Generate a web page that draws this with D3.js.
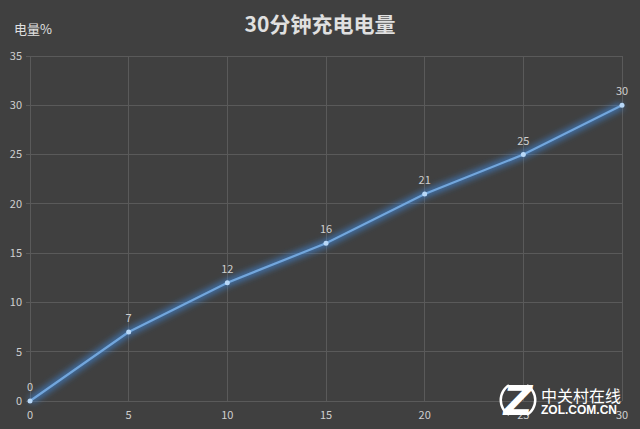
<!DOCTYPE html>
<html><head><meta charset="utf-8">
<script src="https://cdn.jsdelivr.net/npm/d3@7"></script>
<style>body{margin:0;background:#404040;}svg{display:block;}</style>
</head><body>
<script>
const xValues = [0, 5, 10, 15, 20, 25, 30];
const yValues = [0, 7, 12, 16, 21, 25, 30];
const xTicks = [0, 5, 10, 15, 20, 25, 30];
const yTicks = [0, 5, 10, 15, 20, 25, 30, 35];
const title = "30分钟充电电量";
const yTitle = "电量%";

const W = 640, H = 429;
const m = {l: 30, r: 18, t: 56, b: 28};
const svg = d3.select("body").append("svg").attr("width", W).attr("height", H);
svg.append("rect").attr("width", W).attr("height", H).attr("fill", "#404040");

const x = d3.scaleLinear().domain([0, 30]).range([m.l, W - m.r]);
const y = d3.scaleLinear().domain([0, 35]).range([H - m.b, m.t]);

const font = "'Noto Sans CJK SC', 'Microsoft YaHei', sans-serif";

const defs = svg.append("defs");
const f = defs.append("filter").attr("id", "glow").attr("x", "-10%").attr("y", "-10%").attr("width", "120%").attr("height", "120%");
f.append("feGaussianBlur").attr("stdDeviation", 3);

// grid
svg.append("g").selectAll("line").data(yTicks).join("line")
  .attr("x1", m.l).attr("x2", W - m.r)
  .attr("y1", d => y(d)).attr("y2", d => y(d))
  .attr("stroke", "#5a5a5a").attr("stroke-width", 1).attr("shape-rendering", "crispEdges");
svg.append("g").selectAll("line").data(xTicks).join("line")
  .attr("y1", y(0)).attr("y2", y(35))
  .attr("x1", d => x(d)).attr("x2", d => x(d))
  .attr("stroke", "#5a5a5a").attr("stroke-width", 1).attr("shape-rendering", "crispEdges");
svg.append("g").selectAll("line").data(yTicks).join("line")
  .attr("x1", m.l - 4).attr("x2", m.l)
  .attr("y1", d => y(d)).attr("y2", d => y(d))
  .attr("stroke", "#5a5a5a").attr("shape-rendering", "crispEdges");

svg.append("g").selectAll("text").data(yTicks).join("text")
  .attr("x", m.l - 8).attr("y", d => y(d)).attr("dy", "0.35em")
  .attr("text-anchor", "end").attr("fill", "#cfcfcf")
  .style("font", `11px ${font}`).text(d => d);
svg.append("g").selectAll("text").data(xTicks).join("text")
  .attr("x", d => x(d)).attr("y", y(0) + 18)
  .attr("text-anchor", "middle").attr("fill", "#cfcfcf")
  .style("font", `11px ${font}`).text(d => d);

const pts = xValues.map((v, i) => [v, yValues[i]]);
const line = d3.line().x(d => x(d[0])).y(d => y(d[1]));

svg.append("path").datum(pts).attr("d", line)
  .attr("fill", "none").attr("stroke", "#3f88dc").attr("stroke-width", 7)
  .attr("stroke-opacity", 0.7).attr("filter", "url(#glow)");
svg.append("path").datum(pts).attr("d", line)
  .attr("fill", "none").attr("stroke", "#72a6dc").attr("stroke-width", 2.2);
svg.append("g").selectAll("circle").data(pts).join("circle")
  .attr("cx", d => x(d[0])).attr("cy", d => y(d[1])).attr("r", 2.5)
  .attr("fill", "#b8d8f8");

svg.append("g").selectAll("text").data(pts).join("text")
  .attr("x", d => x(d[0])).attr("y", d => y(d[1]) - 10)
  .attr("text-anchor", "middle").attr("fill", "#cfcfcf")
  .style("font", `11px ${font}`).text(d => d[1]);

svg.append("text").attr("x", 320).attr("y", 32).attr("text-anchor", "middle")
  .attr("fill", "#e0e0e0").style("font", `bold 21px ${font}`).text(title);
svg.append("text").attr("x", 14).attr("y", 34)
  .attr("fill", "#e0e0e0").style("font", `13px ${font}`).text(yTitle);

// watermark
const wm = svg.append("g");
const arc = d3.arc().innerRadius(16).outerRadius(18.5);
wm.append("path").attr("transform", "translate(518,400)")
  .attr("d", arc({startAngle: -2.6, endAngle: -0.55 - Math.PI / 2 + Math.PI / 2 - 0.0}))
  .attr("fill", "#ffffff");
wm.append("path").attr("transform", "translate(518,400)")
  .attr("d", arc({startAngle: 0.55, endAngle: 2.6}))
  .attr("fill", "#ffffff");
wm.append("text").attr("x", 518).attr("y", 415).attr("text-anchor", "middle")
  .attr("fill", "#ffffff").style("font", `italic bold 40px 'DejaVu Sans', sans-serif`).text("Z");
wm.append("text").attr("x", 541).attr("y", 402)
  .attr("fill", "#ffffff").style("font", `16px ${font}`).text("中关村在线");
wm.append("text").attr("x", 541).attr("y", 414)
  .attr("fill", "#ffffff").style("font", `bold 12px 'Liberation Sans', sans-serif`).text("ZOL.COM.CN");
</script>
</body></html>
